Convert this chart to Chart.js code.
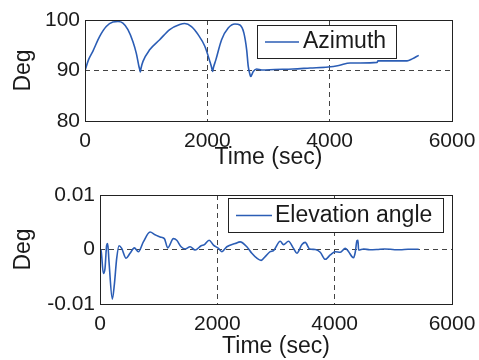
<!DOCTYPE html>
<html>
<head>
<meta charset="utf-8">
<script src="https://cdn.jsdelivr.net/npm/chart.js@4.4.0/dist/chart.umd.min.js"></script>
<style>
html, body { margin: 0; padding: 0; background: #fff; }
canvas { display: block; }
</style>
</head>
<body>
<canvas id="azCanvas" width="479" height="180"></canvas>
<canvas id="elCanvas" width="479" height="180"></canvas>
<script>
///// data
let azTime = [0, 60, 128, 238, 347, 456, 538, 620, 702, 784, 839, 882, 895, 905, 915, 948, 1057, 1221, 1385, 1549, 1631, 1741, 1850, 1959, 2041, 2070, 2085, 2100, 2139, 2233, 2341, 2451, 2533, 2598, 2643, 2669, 2695, 2708, 2751, 2807, 2889, 3100, 3400, 3680, 3975, 4150, 4336, 4500, 4774, 4790, 5000, 5266, 5350, 5456];
let azimuth = [90, 92.2, 93.8, 96.7, 98.7, 99.6, 99.7, 99.4, 98.1, 95.7, 93.4, 90.8, 90.2, 89.7, 90.4, 91.8, 94.1, 96.1, 98.1, 99.1, 99.3, 98.7, 97.1, 94.8, 91.8, 90.6, 89.8, 90.6, 92.1, 96.1, 98.4, 99.2, 99.0, 97.4, 94.1, 90.8, 89.3, 88.8, 89.8, 90.3, 90.1, 90.2, 90.3, 90.5, 90.7, 91.0, 91.5, 91.5, 91.6, 91.9, 91.9, 91.9, 92.3, 93.0];

let elTime = [0, 17, 57, 85, 114, 131, 154, 210, 244, 285, 324, 370, 444, 512, 585, 654, 739, 853, 939, 1024, 1097, 1155, 1251, 1308, 1382, 1451, 1536, 1621, 1724, 1780, 1860, 1934, 2019, 2076, 2162, 2304, 2389, 2503, 2588, 2674, 2747, 2816, 2901, 2958, 3072, 3128, 3213, 3299, 3356, 3442, 3498, 3572, 3669, 3754, 3840, 3925, 4010, 4096, 4181, 4238, 4294, 4323, 4351, 4380, 4397, 4408, 4494, 4600, 4722, 4850, 4949, 5050, 5119, 5250, 5432];
let elevation = [0, -0.1, -4.4, -3.5, 0.8, 1.1, -2.3, -9.1, -6.5, -1.6, 0.7, 0.2, -1.6, -0.7, 0.3, -0.4, 1.4, 3.2, 2.7, 2.3, 2.0, 0.3, 2.0, 1.7, 0.5, 0.1, 0.5, -0.1, 0.7, 0.9, 1.7, 0.8, 0.2, -0.4, 0.5, 1.1, 1.4, 0.5, -0.7, -1.6, -2.0, -1.3, -0.4, -0.2, 1.5, 0.9, 1.5, 0.2, -0.7, 0.9, 1.3, 0.1, 0, -0.5, -1.8, -1.0, -0.4, -0.5, 0.2, -0.4, -1.3, -1.5, -0.5, 1.6, 1.7, -0.1, 0.1, -0.05, 0, 0.1, 0.05, -0.05, -0.05, 0.05, 0.05].map(v => v * 0.001);

let xTickLabels = ["0", "2000", "4000", "6000"];
let azTickLabels = ["80", "90", "100"];
let elTickLabels = ["-0.01", "0", "0.01"];

///// styles
let blue = "#2b5db5";
let ink = "#1a1a1a";
let fam = '"Liberation Sans", Arial, sans-serif';

///// box around the plot + matlab style legend
let boxLegend = {
    id: "boxLegend",
    afterDraw(chart, args, o) {
        let ctx = chart.ctx;
        let a = chart.chartArea;
        ctx.save();
        ctx.strokeStyle = "#222";
        ctx.lineWidth = 1;
        ctx.strokeRect(Math.round(a.left) + 0.5, Math.round(a.top) + 0.5, Math.round(a.right - a.left), Math.round(a.bottom - a.top));
        // legend
        ctx.fillStyle = "#fff";
        ctx.fillRect(o.x, o.y, o.w, o.h);
        ctx.strokeRect(o.x + 0.5, o.y + 0.5, o.w, o.h);
        let my = o.y + o.h / 2 + 0.5;
        ctx.strokeStyle = blue;
        ctx.lineWidth = 1.6;
        ctx.beginPath();
        ctx.moveTo(o.x1, my);
        ctx.lineTo(o.x2, my);
        ctx.stroke();
        ctx.fillStyle = ink;
        ctx.font = "23px " + fam;
        ctx.textBaseline = "middle";
        ctx.fillText(chart.data.datasets[0].label, o.tx, my);
        ctx.restore();
    }
};

// no grid line on the plot edges, the box covers them
let inner = (c) => (c.index === 0 || c.index === c.scale.ticks.length - 1) ? "rgba(0,0,0,0)" : "#444";

function makeChart(id, times, values, label, yMin, yMax, yStep, yLabels, yWidth, pad, xHeight, titleBottom, legend) {
    let pts = times.map((t, i) => ({ x: t, y: values[i] }));
    return new Chart(document.getElementById(id), {
        type: "line",
        data: {
            datasets: [{
                label: label,
                data: pts,
                borderColor: blue,
                borderWidth: 1.6,
                pointRadius: 0,
                cubicInterpolationMode: "monotone",
                fill: false
            }]
        },
        options: {
            responsive: false,
            animation: false,
            devicePixelRatio: 1,
            layout: { padding: pad },
            plugins: {
                legend: { display: false },
                tooltip: { enabled: false },
                boxLegend: legend
            },
            scales: {
                x: {
                    type: "linear",
                    min: 0,
                    max: 6000,
                    ticks: {
                        stepSize: 2000,
                        padding: 8,
                        color: ink,
                        maxRotation: 0,
                        font: { size: 21, family: fam },
                        callback: (v) => xTickLabels[Math.round(v / 2000)]
                    },
                    grid: { color: inner, drawTicks: false, lineWidth: 1 },
                    border: { display: false, dash: [5, 4] },
                    title: {
                        display: true,
                        text: "Time (sec)",
                        color: ink,
                        font: { size: 23, family: fam },
                        padding: { top: 0, bottom: titleBottom }
                    },
                    afterFit: (s) => { s.height = xHeight; s.paddingLeft = 0; s.paddingRight = 0; }
                },
                y: {
                    min: yMin,
                    max: yMax,
                    ticks: {
                        stepSize: yStep,
                        padding: 5,
                        color: ink,
                        font: { size: 21, family: fam },
                        callback: (v, i) => yLabels[i]
                    },
                    grid: { color: inner, drawTicks: false, lineWidth: 1 },
                    border: { display: false, dash: [5, 4] },
                    title: {
                        display: true,
                        text: "Deg",
                        color: ink,
                        font: { size: 23, family: fam },
                        padding: { top: 10, bottom: 0 }
                    },
                    afterFit: (s) => { s.width = yWidth; s.paddingTop = 0; s.paddingBottom = 0; }
                }
            }
        },
        plugins: [boxLegend]
    });
}

makeChart("azCanvas", azTime, azimuth, "Azimuth", 80, 100, 10, azTickLabels, 85, { top: 20, right: 27, left: 0, bottom: 0 }, 59, 9,
    { x: 257, y: 25, w: 139, h: 33, x1: 265, x2: 299, tx: 303 });

makeChart("elCanvas", elTime, elevation, "Elevation angle", -0.01, 0.01, 0.01, elTickLabels, 100, { top: 15, right: 27, left: 0, bottom: 0 }, 56, 0,
    { x: 228, y: 18, w: 215, h: 34, x1: 236, x2: 272, tx: 275 });
</script>
</body>
</html>
